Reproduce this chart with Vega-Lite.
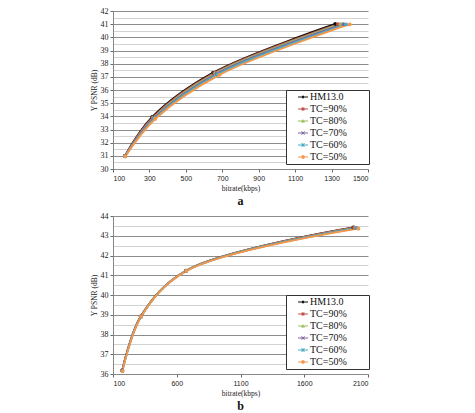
{
  "$schema": "https://vega.github.io/schema/vega-lite/v6.json",
  "padding": {"left": 90, "top": 7, "right": 5, "bottom": 2},
  "background": "white",
  "config": {
    "view": {"stroke": null},
    "axis": {"domainColor": "#888888", "tickColor": "#666666", "labelColor": "#222222", "titleColor": "#222222"},
    "axisX": {"labelFont": "Liberation Sans", "labelFontSize": 7, "tickSize": 3, "grid": false, "titleFont": "Liberation Serif", "titleFontSize": 7.5, "titleFontWeight": "normal", "titlePadding": 3, "labelPadding": 2, "format": "d"},
    "axisY": {"labelFont": "Liberation Serif", "labelFontSize": 8, "tickSize": 3, "titleFont": "Liberation Serif", "titleFontSize": 7.5, "titleFontWeight": "normal", "titlePadding": 2, "labelPadding": 2}
  },
  "datasets": {
    "a": [
      {"series": "HM13.0", "bitrate": 165, "psnr": 31.0},
      {"series": "HM13.0", "bitrate": 315, "psnr": 33.95},
      {"series": "HM13.0", "bitrate": 650, "psnr": 37.32},
      {"series": "HM13.0", "bitrate": 1320, "psnr": 41.02},
      {"series": "TC=90%", "bitrate": 165, "psnr": 30.99},
      {"series": "TC=90%", "bitrate": 318, "psnr": 33.92},
      {"series": "TC=90%", "bitrate": 656, "psnr": 37.3},
      {"series": "TC=90%", "bitrate": 1335, "psnr": 41.01},
      {"series": "TC=80%", "bitrate": 166, "psnr": 30.98},
      {"series": "TC=80%", "bitrate": 321, "psnr": 33.89},
      {"series": "TC=80%", "bitrate": 662, "psnr": 37.27},
      {"series": "TC=80%", "bitrate": 1350, "psnr": 41.0},
      {"series": "TC=70%", "bitrate": 166, "psnr": 30.97},
      {"series": "TC=70%", "bitrate": 324, "psnr": 33.86},
      {"series": "TC=70%", "bitrate": 668, "psnr": 37.24},
      {"series": "TC=70%", "bitrate": 1365, "psnr": 41.0},
      {"series": "TC=60%", "bitrate": 167, "psnr": 30.96},
      {"series": "TC=60%", "bitrate": 327, "psnr": 33.83},
      {"series": "TC=60%", "bitrate": 675, "psnr": 37.2},
      {"series": "TC=60%", "bitrate": 1380, "psnr": 40.99},
      {"series": "TC=50%", "bitrate": 167, "psnr": 30.95},
      {"series": "TC=50%", "bitrate": 332, "psnr": 33.8},
      {"series": "TC=50%", "bitrate": 685, "psnr": 37.15},
      {"series": "TC=50%", "bitrate": 1400, "psnr": 40.98}
    ],
    "b": [
      {"series": "HM13.0", "bitrate": 172, "psnr": 36.18},
      {"series": "HM13.0", "bitrate": 318, "psnr": 38.92},
      {"series": "HM13.0", "bitrate": 672, "psnr": 41.23},
      {"series": "HM13.0", "bitrate": 1985, "psnr": 43.42},
      {"series": "TC=90%", "bitrate": 172, "psnr": 36.18},
      {"series": "TC=90%", "bitrate": 318, "psnr": 38.92},
      {"series": "TC=90%", "bitrate": 672, "psnr": 41.23},
      {"series": "TC=90%", "bitrate": 1990, "psnr": 43.42},
      {"series": "TC=80%", "bitrate": 173, "psnr": 36.17},
      {"series": "TC=80%", "bitrate": 319, "psnr": 38.91},
      {"series": "TC=80%", "bitrate": 673, "psnr": 41.23},
      {"series": "TC=80%", "bitrate": 2000, "psnr": 43.4},
      {"series": "TC=70%", "bitrate": 173, "psnr": 36.17},
      {"series": "TC=70%", "bitrate": 319, "psnr": 38.91},
      {"series": "TC=70%", "bitrate": 673, "psnr": 41.22},
      {"series": "TC=70%", "bitrate": 2008, "psnr": 43.39},
      {"series": "TC=60%", "bitrate": 174, "psnr": 36.16},
      {"series": "TC=60%", "bitrate": 320, "psnr": 38.9},
      {"series": "TC=60%", "bitrate": 674, "psnr": 41.22},
      {"series": "TC=60%", "bitrate": 2015, "psnr": 43.38},
      {"series": "TC=50%", "bitrate": 175, "psnr": 36.15},
      {"series": "TC=50%", "bitrate": 320, "psnr": 38.9},
      {"series": "TC=50%", "bitrate": 676, "psnr": 41.22},
      {"series": "TC=50%", "bitrate": 2025, "psnr": 43.36}
    ]
  },
  "vconcat": [
    {
      "width": 255,
      "height": 158,
      "data": {"name": "a"},
      "title": {"text": "a", "orient": "bottom", "frame": "group", "font": "Liberation Serif", "fontSize": 12, "fontWeight": "bold", "color": "#111111", "offset": 4},
      "encoding": {
        "x": {"field": "bitrate", "type": "quantitative", "title": "bitrate(kbps)", "scale": {"domain": [100, 1500], "nice": false}, "axis": {"values": [100, 300, 500, 700, 900, 1100, 1300, 1500]}},
        "y": {"field": "psnr", "type": "quantitative", "title": "Y PSNR (dB)", "scale": {"domain": [30, 42], "nice": false},
          "axis": {"values": [30, 30.5, 31, 31.5, 32, 32.5, 33, 33.5, 34, 34.5, 35, 35.5, 36, 36.5, 37, 37.5, 38, 38.5, 39, 39.5, 40, 40.5, 41, 41.5, 42],
            "labelExpr": "datum.value % 1 === 0 ? format(datum.value, 'd') : ''",
            "tickOpacity": {"condition": {"test": "datum.value % 1 === 0", "value": 1}, "value": 0},
            "gridColor": {"condition": {"test": "datum.value % 1 === 0", "value": "#8c8c8c"}, "value": "#d2d2d2"}}},
        "color": {"field": "series", "type": "nominal", "scale": {"domain": ["HM13.0", "TC=90%", "TC=80%", "TC=70%", "TC=60%", "TC=50%"], "range": ["#111111", "#C0504D", "#9BBB59", "#8064A2", "#4BACC6", "#F79646"]},
          "legend": {"orient": "none", "legendX": 173, "legendY": 79, "fillColor": "white", "strokeColor": "#333333", "padding": 2, "labelFont": "Liberation Serif", "labelFontSize": 10, "labelColor": "#111111", "symbolSize": 100, "symbolOffset": 10, "labelOffset": 2, "rowPadding": 2, "title": null,
            "labelExpr": "datum.label + '\u00a0\u00a0\u00a0\u00a0\u00a0\u2800'",
            "symbolType": "M-1,-0.1H1V0.1H-1Z",
            "symbolStrokeWidth": 0,
            "encode": {"symbols": {"update": {"shape": {"signal": "'M-1,-0.1H1V0.1H-1Z' + (datum.value === 'HM13.0' ? 'M0,-0.35L0.35,0L0,0.35L-0.35,0Z' : datum.value === 'TC=90%' ? 'M-0.3,-0.3H0.3V0.3H-0.3Z' : datum.value === 'TC=80%' ? 'M0,-0.38L0.38,0.3H-0.38Z' : datum.value === 'TC=70%' ? 'M-0.38,-0.28L-0.28,-0.38L0.38,0.28L0.28,0.38ZM0.28,-0.38L0.38,-0.28L-0.28,0.38L-0.38,0.28Z' : datum.value === 'TC=60%' ? 'M-0.38,-0.28L-0.28,-0.38L0.38,0.28L0.28,0.38ZM0.28,-0.38L0.38,-0.28L-0.28,0.38L-0.38,0.28ZM-0.06,-0.42H0.06V0.42H-0.06Z' : 'M-0.15,-0.35H0.15L0.35,-0.15V0.15L0.15,0.35H-0.15L-0.35,0.15V-0.15Z')"}}}}}}
      },
      "layer": [
        {"mark": {"type": "line", "interpolate": "catmull-rom", "strokeWidth": 1.8}},
        {"mark": {"type": "point", "filled": true, "size": 14, "opacity": 1}}
      ]
    },
    {
      "width": 255,
      "height": 158,
      "data": {"name": "b"},
      "title": {"text": "b", "orient": "bottom", "frame": "group", "font": "Liberation Serif", "fontSize": 12, "fontWeight": "bold", "color": "#111111", "offset": 4},
      "encoding": {
        "x": {"field": "bitrate", "type": "quantitative", "title": "bitrate(kbps)", "scale": {"domain": [100, 2100], "nice": false}, "axis": {"values": [100, 600, 1100, 1600, 2100]}},
        "y": {"field": "psnr", "type": "quantitative", "title": "Y PSNR (dB)", "scale": {"domain": [36, 44], "nice": false},
          "axis": {"values": [36, 36.5, 37, 37.5, 38, 38.5, 39, 39.5, 40, 40.5, 41, 41.5, 42, 42.5, 43, 43.5, 44],
            "labelExpr": "datum.value % 1 === 0 ? format(datum.value, 'd') : ''",
            "tickOpacity": {"condition": {"test": "datum.value % 1 === 0", "value": 1}, "value": 0},
            "gridColor": {"condition": {"test": "datum.value % 1 === 0", "value": "#8c8c8c"}, "value": "#d2d2d2"}}},
        "color": {"field": "series", "type": "nominal", "scale": {"domain": ["HM13.0", "TC=90%", "TC=80%", "TC=70%", "TC=60%", "TC=50%"], "range": ["#111111", "#C0504D", "#9BBB59", "#8064A2", "#4BACC6", "#F79646"]},
          "legend": {"orient": "none", "legendX": 173, "legendY": 79, "fillColor": "white", "strokeColor": "#333333", "padding": 2, "labelFont": "Liberation Serif", "labelFontSize": 10, "labelColor": "#111111", "symbolSize": 100, "symbolOffset": 10, "labelOffset": 2, "rowPadding": 2, "title": null,
            "labelExpr": "datum.label + '\u00a0\u00a0\u00a0\u00a0\u00a0\u2800'",
            "symbolType": "M-1,-0.1H1V0.1H-1Z",
            "symbolStrokeWidth": 0,
            "encode": {"symbols": {"update": {"shape": {"signal": "'M-1,-0.1H1V0.1H-1Z' + (datum.value === 'HM13.0' ? 'M0,-0.35L0.35,0L0,0.35L-0.35,0Z' : datum.value === 'TC=90%' ? 'M-0.3,-0.3H0.3V0.3H-0.3Z' : datum.value === 'TC=80%' ? 'M0,-0.38L0.38,0.3H-0.38Z' : datum.value === 'TC=70%' ? 'M-0.38,-0.28L-0.28,-0.38L0.38,0.28L0.28,0.38ZM0.28,-0.38L0.38,-0.28L-0.28,0.38L-0.38,0.28Z' : datum.value === 'TC=60%' ? 'M-0.38,-0.28L-0.28,-0.38L0.38,0.28L0.28,0.38ZM0.28,-0.38L0.38,-0.28L-0.28,0.38L-0.38,0.28ZM-0.06,-0.42H0.06V0.42H-0.06Z' : 'M-0.15,-0.35H0.15L0.35,-0.15V0.15L0.15,0.35H-0.15L-0.35,0.15V-0.15Z')"}}}}}}
      },
      "layer": [
        {"mark": {"type": "line", "interpolate": "catmull-rom", "strokeWidth": 1.8}},
        {"mark": {"type": "point", "filled": true, "size": 14, "opacity": 1}}
      ]
    }
  ],
  "spacing": 5,
  "resolve": {"scale": {"color": "independent", "x": "independent", "y": "independent"}, "legend": {"color": "independent"}}
}
